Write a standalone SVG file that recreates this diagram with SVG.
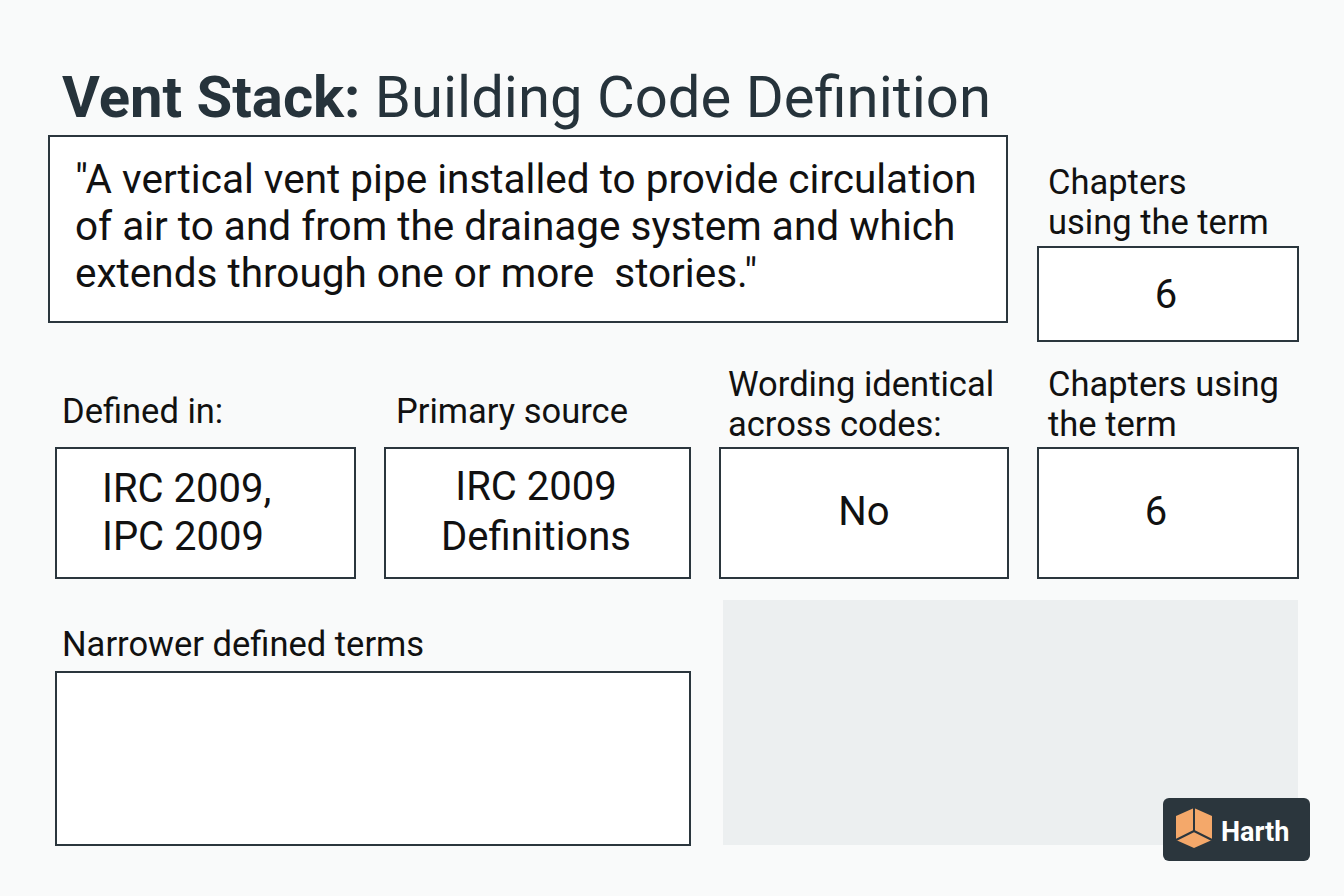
<svg xmlns="http://www.w3.org/2000/svg" width="1344" height="896" viewBox="0 0 1344 896">
<style>
text{font-family:Roboto,"Liberation Sans",sans-serif;fill:#111}
.box{fill:#fff;stroke:#2b363d;stroke-width:2}
.lbl{font-size:34.5px}
.val{font-size:40px}
.q{font-size:40.5px}
</style>
<rect width="1344" height="896" fill="#f9fafa"/>
<g id="title"><text x="62" y="117" font-size="58" style="fill:#26333b"><tspan font-weight="bold">Vent Stack:</tspan> Building Code Definition</text></g>
<g id="definition">
<rect class="box" x="49" y="136" width="958" height="186"/>
<text class="q" x="75" y="193">"A vertical vent pipe installed to provide circulation</text>
<text class="q" x="75" y="240">of air to and from the drainage system and which</text>
<text class="q" x="75" y="287" xml:space="preserve">extends through one or more  stories."</text>
</g>
<g id="chapters-top">
<text class="lbl" x="1048" y="194">Chapters</text>
<text class="lbl" x="1048" y="234">using the term</text>
<rect class="box" x="1038" y="247" width="260" height="94"/>
<text class="val" x="1166" y="308" text-anchor="middle">6</text>
</g>
<g id="defined-in">
<text class="lbl" x="62" y="423">Defined in:</text>
<rect class="box" x="56" y="448" width="299" height="130"/>
<text class="val" x="102" y="502">IRC 2009,</text>
<text class="val" x="102" y="550">IPC 2009</text>
</g>
<g id="primary-source">
<text class="lbl" x="396" y="423">Primary source</text>
<rect class="box" x="385" y="448" width="305" height="130"/>
<text class="val" x="536" y="500" text-anchor="middle">IRC 2009</text>
<text class="val" x="536" y="550" text-anchor="middle">Definitions</text>
</g>
<g id="wording">
<text class="lbl" x="728" y="396">Wording identical</text>
<text class="lbl" x="728" y="436">across codes:</text>
<rect class="box" x="720" y="448" width="288" height="130"/>
<text class="val" x="864" y="525" text-anchor="middle">No</text>
</g>
<g id="chapters">
<text class="lbl" x="1048" y="396">Chapters using</text>
<text class="lbl" x="1048" y="436">the term</text>
<rect class="box" x="1038" y="448" width="260" height="130"/>
<text class="val" x="1156" y="525" text-anchor="middle">6</text>
</g>
<g id="narrower">
<text class="lbl" x="62" y="656">Narrower defined terms</text>
<rect class="box" x="56" y="672" width="634" height="173"/>
</g>
<g id="panel"><rect x="723" y="600" width="575" height="245" fill="#eceff0"/></g>
<g id="logo">
<rect x="1163" y="798" width="147" height="63" rx="6" fill="#2b363d"/>
<polygon points="1176,816 1194,808 1212,816 1212,840 1194,848 1176,840" fill="#f4a86a"/>
<line x1="1194" y1="808" x2="1194" y2="831" stroke="#2b363d" stroke-width="2"/>
<line x1="1194" y1="831" x2="1176" y2="840" stroke="#2b363d" stroke-width="2"/>
<line x1="1194" y1="831" x2="1212" y2="840" stroke="#2b363d" stroke-width="2"/>
<text x="1221" y="841" font-size="27" font-weight="bold" style="fill:#fff">Harth</text>
</g>
<g id="connectors"></g>
</svg>
